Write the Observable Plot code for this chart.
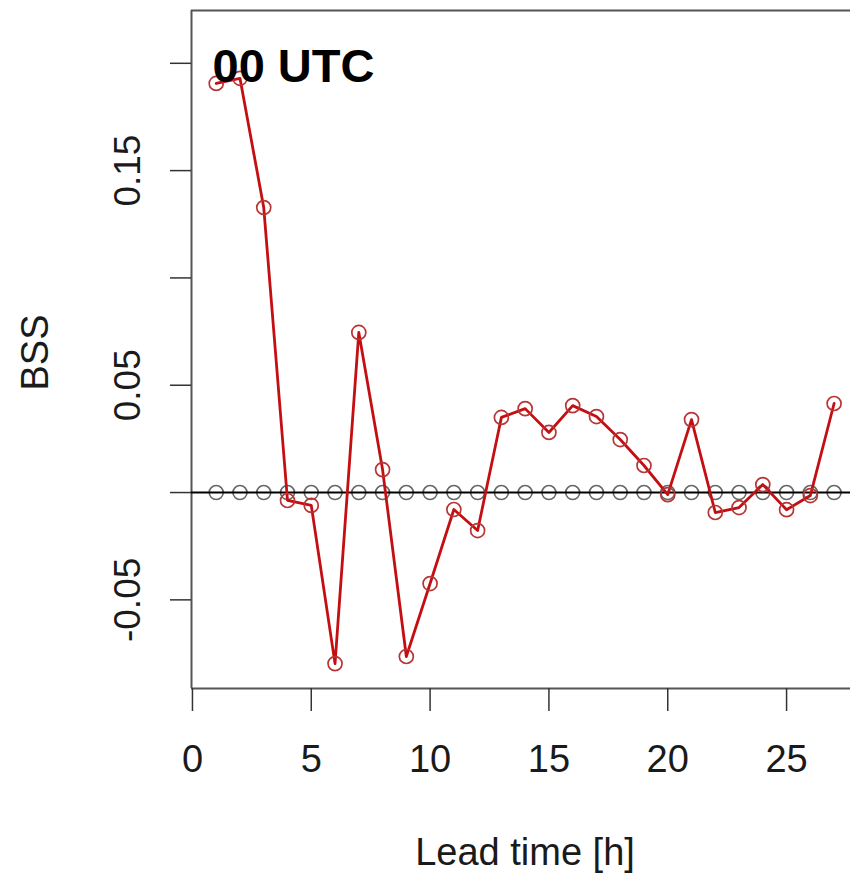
<!DOCTYPE html>
<html>
<head>
<meta charset="utf-8">
<script src="https://cdn.jsdelivr.net/npm/d3@7"></script>
<script src="https://cdn.jsdelivr.net/npm/@observablehq/plot@0.6"></script>
<style>
  html, body { margin: 0; padding: 0; background: #fff; }
  #chart svg { display: block; }
</style>
</head>
<body>
<div id="chart"></div>
<script>
const leadTime = [1, 2, 3, 4, 5, 6, 7, 8, 9, 10, 11, 12, 13, 14, 15, 16, 17, 18, 19, 20, 21, 22, 23, 24, 25, 26, 27];
const bssModel = [0.1906, 0.1930, 0.1328, -0.0037, -0.0060, -0.0797, 0.0746, 0.0107, -0.0764, -0.0424,
                  -0.0079, -0.0177, 0.0350, 0.0391, 0.0280, 0.0405, 0.0354, 0.0247, 0.0126, -0.0010,
                  0.0340, -0.0093, -0.0070, 0.0037, -0.0080, -0.0014, 0.0415];
const bssReference = [0, 0, 0, 0, 0, 0, 0, 0, 0, 0, 0, 0, 0, 0, 0, 0, 0, 0, 0, 0, 0, 0, 0, 0, 0, 0, 0];
const xTicks = [0, 5, 10, 15, 20, 25];
const yTicks = [-0.05, 0, 0.05, 0.10, 0.15, 0.20];
const yTickLabels = ["-0.05", "", "0.05", "", "0.15", ""];
const xDomain = [-0.04, 27.69];
const yDomain = [-0.0913, 0.2246];
const title = "00 UTC";
const xLabel = "Lead time [h]";
const yLabel = "BSS";

const model = leadTime.map((t, i) => ({t, v: bssModel[i]}));
const reference = leadTime.map((t, i) => ({t, v: bssReference[i]}));
const yLab = yTicks.map((v, i) => ({v, s: yTickLabels[i]})).filter(d => d.s !== "");

const font = "'Liberation Sans', Arial, Helvetica, sans-serif";
const ink = "#1a1a1a";

const chart = Plot.plot({
  width: 850,
  height: 874,
  marginLeft: 191,
  marginRight: 0,
  marginTop: 10,
  marginBottom: 186,
  style: {fontFamily: font, background: "#fff", color: ink},
  x: {domain: xDomain},
  y: {domain: yDomain},
  marks: [
    // box (top, bottom, left)
    Plot.ruleY([yDomain[0], yDomain[1]], {stroke: "#555", strokeWidth: 2}),
    Plot.ruleX([xDomain[0]], {stroke: "#555", strokeWidth: 2}),
    // axes
    Plot.axisX({ticks: xTicks, tickSize: 23, tickPadding: 34, fontSize: 38, stroke: "#333", strokeWidth: 1.5, fill: ink, label: null, tickFormat: d => String(d)}),
    Plot.axisY({ticks: yTicks, tickSize: 21, stroke: "#333", strokeWidth: 1.5, label: null, tickFormat: () => ""}),
    Plot.text(yLab, {y: "v", text: "s", frameAnchor: "left", dx: -63, rotate: -90, textAnchor: "middle", lineAnchor: "middle", fontSize: 37, fill: ink}),
    // axis titles
    Plot.text([yLabel], {frameAnchor: "left", dx: -156, dy: 3, rotate: -90, textAnchor: "middle", lineAnchor: "middle", fontSize: 38, fill: ink}),
    Plot.text([xLabel], {frameAnchor: "bottom", dx: 4, dy: 164, textAnchor: "middle", lineAnchor: "middle", fontSize: 38, fill: ink}),
    // reference series
    Plot.dot(reference, {x: "t", y: "v", r: 7, stroke: "#666", strokeWidth: 1.6, fill: "none"}),
    Plot.ruleY([0], {stroke: "#000", strokeWidth: 2}),
    // model series
    Plot.line(model, {x: "t", y: "v", stroke: "#c40f12", strokeWidth: 2.8}),
    Plot.dot(model, {x: "t", y: "v", r: 7, stroke: "#b83535", strokeWidth: 1.7, fill: "none"}),
    // panel title
    Plot.text([title], {frameAnchor: "top-left", dx: 21, dy: 38, textAnchor: "start", lineAnchor: "top", fontSize: 47, fontWeight: "bold", fill: "#000"})
  ]
});
document.getElementById("chart").appendChild(chart);
</script>
</body>
</html>
